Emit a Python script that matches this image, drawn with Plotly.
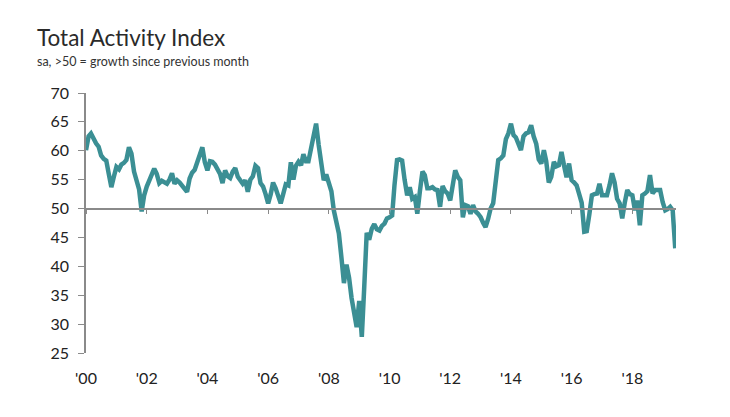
import pandas as pd
import plotly.graph_objects as go

# Monthly index values, Jan 2000 - Jun 2019
v2000 = [60.1, 62.5, 63.0, 62.0, 61.3, 60.7, 59.2, 58.6, 58.3, 56.0, 53.7, 55.5]
v2001 = [57.2, 56.8, 57.6, 57.9, 58.4, 60.6, 59.5, 56.4, 54.6, 53.3, 49.5, 52.3]
v2002 = [53.8, 55.0, 56.2, 56.9, 56.0, 54.4, 54.8, 54.5, 54.3, 55.0, 56.1, 54.3]
v2003 = [54.9, 54.5, 53.9, 53.3, 52.9, 55.2, 56.2, 56.7, 58.0, 59.5, 60.6, 58.0]
v2004 = [56.6, 58.2, 58.1, 57.6, 56.6, 56.0, 54.4, 56.6, 55.6, 55.3, 56.4, 57.0]
v2005 = [55.5, 54.9, 54.3, 54.9, 52.9, 55.0, 55.6, 57.4, 57.0, 54.4, 53.8, 52.5]
v2006 = [50.9, 52.5, 54.5, 53.5, 52.0, 50.9, 52.5, 54.2, 54.0, 58.0, 55.0, 57.4]
v2007 = [58.1, 57.5, 59.4, 58.2, 58.2, 60.7, 62.5, 64.7, 61.0, 57.5, 54.9, 55.9]
v2008 = [54.6, 53.0, 49.7, 47.4, 45.7, 41.5, 37.1, 40.3, 38.0, 34.5, 31.5, 29.5]
v2009 = [34.0, 27.8, 36.0, 45.8, 44.6, 46.5, 47.3, 46.4, 46.2, 47.0, 47.4, 48.3]
v2010 = [48.5, 48.8, 54.0, 58.4, 58.5, 58.3, 55.0, 52.3, 53.7, 51.7, 52.0, 49.1]
v2011 = [53.0, 56.4, 55.8, 53.5, 53.5, 53.7, 53.3, 53.2, 50.3, 53.9, 53.0, 52.6]
v2012 = [51.4, 54.5, 56.6, 55.5, 54.9, 48.5, 50.6, 50.4, 49.1, 50.6, 49.5, 49.1]
v2013 = [48.5, 47.5, 46.8, 48.2, 50.0, 50.9, 55.5, 58.4, 58.7, 59.2, 62.0, 63.0]
v2014 = [64.7, 62.7, 62.3, 61.2, 60.1, 62.5, 63.0, 63.2, 64.4, 62.5, 61.2, 58.5]
v2015 = [57.8, 60.1, 58.2, 54.5, 55.5, 58.1, 57.3, 57.5, 59.8, 57.5, 55.4, 57.8]
v2016 = [54.9, 54.5, 54.0, 52.5, 51.0, 46.0, 46.1, 49.0, 52.3, 52.5, 52.6, 54.3]
v2017 = [52.3, 52.3, 52.3, 54.0, 56.1, 54.5, 51.7, 50.9, 48.3, 51.0, 53.2, 52.5]
v2018 = [52.3, 49.7, 51.4, 47.1, 52.3, 52.6, 53.0, 55.8, 52.6, 53.2, 53.2, 53.2]
v2019 = [51.1, 49.7, 49.9, 50.3, 49.7, 43.1]

values = (v2000 + v2001 + v2002 + v2003 + v2004 + v2005 + v2006 + v2007 + v2008
          + v2009 + v2010 + v2011 + v2012 + v2013 + v2014 + v2015 + v2016
          + v2017 + v2018 + v2019)
dates = pd.date_range("2000-01-01", periods=len(values), freq="MS")

tick_years = list(range(2000, 2019, 2))
tick_vals = [f"{y}-01-01" for y in tick_years]
tick_text = ["'" + str(y)[2:] for y in tick_years]

x_range = ["2000-01-01", "2019-06-10"]
axis_grey = "#8a8a8a"

fig = go.Figure()
fig.add_trace(go.Scatter(x=dates, y=values, mode="lines",
                         line=dict(color="#3b8f94", width=4.5),
                         showlegend=False, hoverinfo="x+y"))
# empty trace so the 50-line axis (with its year ticks) gets drawn
fig.add_trace(go.Scatter(x=[dates[0]], y=[None], xaxis="x2",
                         showlegend=False, hoverinfo="skip"))

fig.update_layout(
    width=730, height=417,
    paper_bgcolor="white", plot_bgcolor="white",
    margin=dict(l=78, r=62, t=85, b=72),
    font=dict(family="Lato", color="#222222", size=16),
    xaxis=dict(range=x_range, showgrid=False, showline=False,
               zeroline=False, tickmode="array", tickvals=tick_vals, ticktext=tick_text,
               ticks="", ticklabelstandoff=14, tickfont=dict(size=16)),
    xaxis2=dict(range=x_range, overlaying="x", anchor="free",
                position=(50 - 25) / (70 - 25), showgrid=False, showline=True,
                linecolor=axis_grey, linewidth=1.5, ticks="outside", ticklen=5,
                tickcolor=axis_grey, tickmode="array", tickvals=tick_vals,
                showticklabels=False, zeroline=False),
    yaxis=dict(range=[25, 70], dtick=5, showgrid=False, zeroline=False,
               showline=True, linecolor=axis_grey, linewidth=1.5,
               ticks="outside", ticklen=6, tickcolor=axis_grey,
               ticklabelstandoff=6, tickfont=dict(size=16)),
)

# title and subtitle
fig.add_annotation(text="Total Activity Index", xref="paper", yref="paper",
                   x=-0.0864, y=1.215, xanchor="left", yanchor="middle",
                   showarrow=False, font=dict(size=22.5, color="#2a2a2a"))
fig.add_annotation(text="sa, >50 = growth since previous month", xref="paper", yref="paper",
                   x=-0.0864, y=1.12, xanchor="left", yanchor="middle",
                   showarrow=False, font=dict(size=12.5, color="#333333"))

fig.write_html("out.html")
